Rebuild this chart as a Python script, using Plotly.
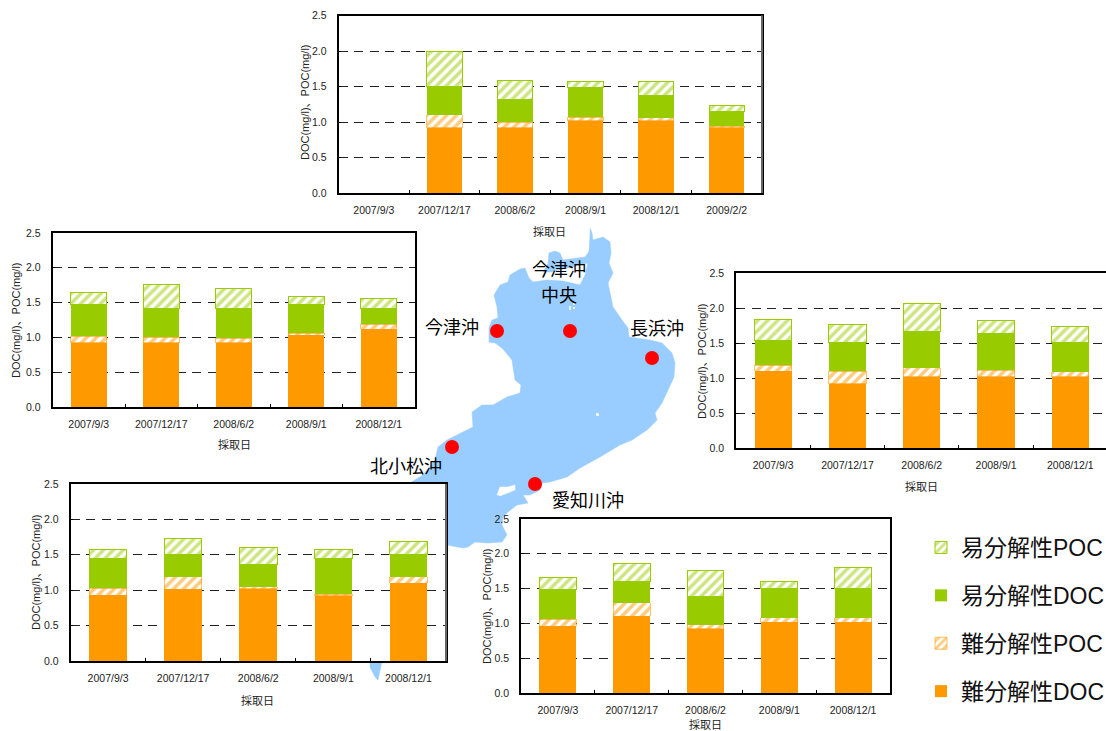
import plotly.graph_objects as go

# ---------- data ----------
CATS_5 = ["2007/9/3", "2007/12/17", "2008/6/2", "2008/9/1", "2008/12/1"]
CATS_6 = ["2007/9/3", "2007/12/17", "2008/6/2", "2008/9/1", "2008/12/1", "2009/2/2"]

# increments per station: refractory DOC, refractory POC, labile DOC, labile POC
imazu_chuo_doc_r = [None, 0.92, 0.92, 1.02, 1.02, 0.92]
imazu_chuo_poc_r = [None, 0.18, 0.08, 0.05, 0.04, 0.02]
imazu_chuo_doc_l = [None, 0.40, 0.31, 0.42, 0.31, 0.21]
imazu_chuo_poc_l = [None, 0.50, 0.28, 0.08, 0.20, 0.08]

imazu_doc_r = [0.92, 0.92, 0.92, 1.03, 1.12]
imazu_poc_r = [0.10, 0.08, 0.07, 0.03, 0.07]
imazu_doc_l = [0.45, 0.41, 0.42, 0.41, 0.22]
imazu_poc_l = [0.17, 0.35, 0.29, 0.12, 0.15]

nagahama_doc_r = [1.10, 0.92, 1.02, 1.02, 1.02]
nagahama_poc_r = [0.08, 0.18, 0.13, 0.09, 0.07]
nagahama_doc_l = [0.35, 0.41, 0.51, 0.52, 0.42]
nagahama_poc_l = [0.30, 0.26, 0.40, 0.19, 0.22]

komatsu_doc_r = [0.93, 1.01, 1.02, 0.92, 1.10]
komatsu_poc_r = [0.10, 0.18, 0.03, 0.02, 0.09]
komatsu_doc_l = [0.42, 0.32, 0.31, 0.51, 0.31]
komatsu_poc_l = [0.12, 0.22, 0.24, 0.12, 0.19]

echi_doc_r = [0.96, 1.10, 0.92, 1.02, 1.02]
echi_poc_r = [0.10, 0.20, 0.06, 0.06, 0.06]
echi_doc_l = [0.43, 0.30, 0.40, 0.42, 0.42]
echi_poc_l = [0.17, 0.26, 0.38, 0.10, 0.30]

SERIES_NAMES = ["難分解性DOC", "難分解性POC", "易分解性DOC", "易分解性POC"]
Y_TICKS = [0.0, 0.5, 1.0, 1.5, 2.0, 2.5]
X_TITLE = "採取日"
Y_TITLE = "DOC(mg/l)、POC(mg/l)"

# lake outline, image pixels
LAKE_X = [590, 592, 593, 603, 610, 611, 609, 613, 608, 611, 613, 622, 628, 629, 650, 662, 672, 675, 674, 668, 662, 655, 657, 647, 632, 620, 600, 580, 567, 550, 542, 540, 530, 523, 528, 517, 508, 503, 502, 507, 502, 488, 475, 468, 463, 447, 445, 382, 380, 378, 375, 370, 370, 393, 410, 423, 435, 438, 447, 457, 473, 472, 482, 493, 507, 520, 521, 515, 512, 502, 495, 489, 489, 492, 498, 497, 494, 500, 508, 510, 520, 525, 529, 533, 547, 563, 575, 580, 585, 588, 589]
LAKE_Y = [228, 233, 240, 237, 242, 253, 263, 273, 283, 298, 307, 320, 328, 337, 340, 343, 353, 363, 377, 390, 403, 413, 420, 430, 440, 445, 457, 468, 477, 482, 483, 490, 495, 495, 503, 505, 512, 517, 525, 535, 542, 543, 542, 547, 548, 545, 540, 661, 670, 680, 677, 667, 661, 587, 483, 475, 460, 447, 440, 435, 427, 412, 405, 405, 397, 393, 385, 380, 360, 348, 343, 342, 328, 320, 318, 307, 295, 285, 282, 275, 269, 268, 278, 282, 280, 281, 284, 285, 275, 262, 250]
LAKE_BAY_X = [548, 549, 555, 560, 563, 585, 592, 588, 551, 543]
LAKE_BAY_Y = [263, 253, 251, 253, 260, 257, 248, 263, 272, 272]
ISLE_X = [497, 500, 508, 515, 515, 507, 500]
ISLE_Y = [495, 487, 487, 485, 490, 493, 496]
SPOT_X = [570, 574, 574, 570, 597, 598, 598, 597]
SPOT_Y = [307, 304, 308, 309, 414, 414, 415, 415]
STATION_X = [497, 570, 652, 452, 535]
STATION_Y = [331, 331, 358, 447, 484]

W, H = 1106, 731
ORANGE, GREEN, LAKE, RED = "#FF9900", "#99CC00", "#99CCFF", "#FF0000"
ASCII_CJK = "'Liberation Sans', 'Noto Sans CJK JP', sans-serif"

fig = go.Figure()
# background map axis in pixel units
fig.add_trace(go.Scatter(x=LAKE_X, y=LAKE_Y, mode="lines", fill="toself", fillcolor=LAKE,
                         line=dict(color=LAKE, width=0.5), showlegend=False, hoverinfo="skip"))
fig.add_trace(go.Scatter(x=LAKE_BAY_X, y=LAKE_BAY_Y, mode="lines", fill="toself", fillcolor=LAKE,
                         line=dict(color=LAKE, width=0.5), showlegend=False, hoverinfo="skip"))
fig.add_trace(go.Scatter(x=ISLE_X, y=ISLE_Y, mode="lines", fill="toself", fillcolor="white",
                         line=dict(color="white", width=0.5), showlegend=False, hoverinfo="skip"))
fig.add_trace(go.Scatter(x=SPOT_X, y=SPOT_Y, mode="markers", marker=dict(color="white", size=2),
                         showlegend=False, hoverinfo="skip"))
fig.add_trace(go.Scatter(x=STATION_X, y=STATION_Y, mode="markers",
                         marker=dict(color=RED, size=14, line=dict(width=0)),
                         showlegend=False, hoverinfo="skip"))
fig.update_layout(
    xaxis=dict(domain=[0, 1], range=[0, W], visible=False, fixedrange=True, automargin=False),
    yaxis=dict(domain=[0, 1], range=[H, 0], visible=False, fixedrange=True, automargin=False),
)

panels = [
    (CATS_6, [imazu_chuo_doc_r, imazu_chuo_poc_r, imazu_chuo_doc_l, imazu_chuo_poc_l], (338.5, 762, 15.5, 193), 305, 102, (549, 231), True, True),
    (CATS_5, [imazu_doc_r, imazu_poc_r, imazu_doc_l, imazu_poc_l], (52.5, 415, 233, 407), 16, 320, (234, 444), True, False),
    (CATS_5, [nagahama_doc_r, nagahama_poc_r, nagahama_doc_l, nagahama_poc_l], (736, 1106, 273, 448), 702, 361, (921, 486), False, False),
    (CATS_5, [komatsu_doc_r, komatsu_poc_r, komatsu_doc_l, komatsu_poc_l], (70.5, 446, 484, 661), 36, 572, (257, 700), True, True),
    (CATS_5, [echi_doc_r, echi_poc_r, echi_doc_l, echi_poc_l], (521, 890, 519, 693), 487, 606, (705, 724.5), True, False),
]

styles = [
    dict(color=ORANGE, line=dict(width=0)),
    dict(color="white", line=dict(color=ORANGE, width=0.6),
         pattern=dict(shape="/", fgcolor=ORANGE, bgcolor="white", size=7, solidity=0.5)),
    dict(color=GREEN, line=dict(width=0)),
    dict(color="white", line=dict(color=GREEN, width=1),
         pattern=dict(shape="/", fgcolor=GREEN, bgcolor="white", size=7, solidity=0.5)),
]

ann = []
shapes = []
for i, (cats, vals, (x0, x1, y0, y1), ytx, yty, xt, mirror, gray) in enumerate(panels):
    n = i + 2
    xa, ya = f"x{n}", f"y{n}"
    for j, (name, v, st) in enumerate(zip(SERIES_NAMES, vals, styles)):
        fig.add_trace(go.Bar(x=cats, y=v, name=name, marker=st, xaxis=xa, yaxis=ya, legendrank=10 - j,
                             width=0.5, legendgroup=name, showlegend=(i == 0), hoverinfo="skip"))
    x_range = [-0.5, len(cats) - 0.5]
    if not mirror:
        if x1 == W:
            x_range = [-0.5, 4.48]
    fig.layout[f"xaxis{n}"] = dict(
        domain=[x0 / W, x1 / W], anchor=ya, type="category", categoryorder="array", categoryarray=cats,
        range=x_range, tickson="boundaries", ticks="inside", ticklen=3, tickcolor="black", tickwidth=1,
        showline=True, linecolor="black", linewidth=1.5, mirror=True, showgrid=False, automargin=False,
        tickfont=dict(family=ASCII_CJK, size=10.5, color="#222"), ticklabelstandoff=7, fixedrange=True,
    )
    fig.layout[f"yaxis{n}"] = dict(
        domain=[1 - y1 / H, 1 - y0 / H], anchor=xa, range=[0, 2.5], tickvals=Y_TICKS, tickformat=".1f",
        ticks="inside", ticklen=3, tickcolor="black", showline=True, linecolor="black", linewidth=1.5,
        mirror=mirror, showgrid=True, gridcolor="#222", griddash="9px,6.5px", gridwidth=1, zeroline=False,
        automargin=False,
        tickfont=dict(family=ASCII_CJK, size=10.5, color="#222"), ticklabelstandoff=8, fixedrange=True,
    )
    ann.append(dict(x=ytx, y=yty, xref="x", yref="y", text=Y_TITLE, textangle=-90, showarrow=False,
                    font=dict(family=ASCII_CJK, size=11, color="#222")))
    ann.append(dict(x=xt[0], y=xt[1], xref="x", yref="y", text=X_TITLE, showarrow=False,
                    font=dict(family=ASCII_CJK, size=11, color="#222")))
    if gray:
        shapes.append(dict(type="line", xref=f"{xa} domain", yref=f"{ya} domain", x0=1, x1=1, y0=0, y1=1,
                           line=dict(color="#666", width=2)))

for label, x, y in [("今津沖", 452, 326), ("今津沖", 559, 268), ("中央", 559, 294),
                    ("長浜沖", 657, 327), ("北小松沖", 406, 465), ("愛知川沖", 588, 499)]:
    ann.append(dict(x=x, y=y, xref="x", yref="y", text=label, showarrow=False, borderpad=0,
                    font=dict(family="'Noto Sans CJK JP', sans-serif", size=18, color="black")))

fig.update_layout(
    width=W, height=H, autosize=False, margin=dict(l=0, r=0, t=0, b=0, pad=0, autoexpand=False),
    paper_bgcolor="white", plot_bgcolor="white", barmode="stack", annotations=ann, shapes=shapes,
    font=dict(family=ASCII_CJK),
    legend=dict(x=921 / W, y=1 - 526 / H, xanchor="left", yanchor="top", traceorder="grouped",
                tracegroupgap=15, bgcolor="rgba(0,0,0,0)", itemwidth=30,
                font=dict(family=ASCII_CJK, size=23, color="#111")),
)

fig.write_html("out.html", config={"displayModeBar": False},
               post_script="document.body.style.margin='0';document.body.style.overflow='hidden';")
